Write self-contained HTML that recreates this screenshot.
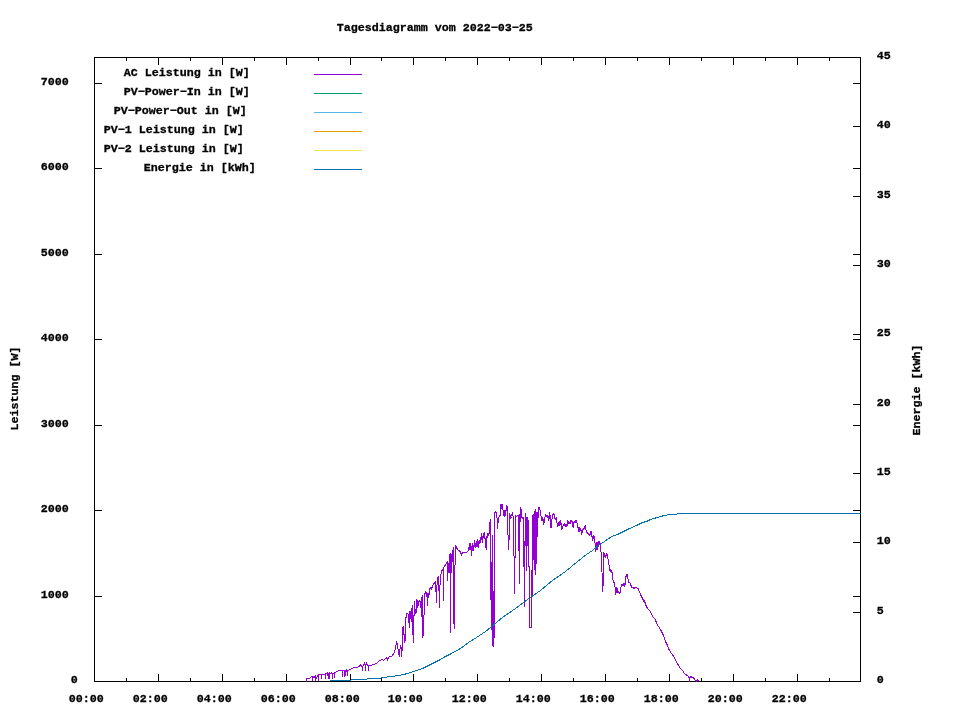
<!DOCTYPE html>
<html><head><meta charset="utf-8"><title>Tagesdiagramm vom 2022-03-25</title>
<style>
html,body{margin:0;padding:0;background:#fff;}
body{width:960px;height:720px;overflow:hidden;font-family:"Liberation Mono",monospace;}
svg{display:block;will-change:transform;}
text{font-family:"Liberation Mono",monospace;font-weight:bold;font-size:11.67px;fill:#000;stroke:#000;stroke-width:0.3px;}
.ax{stroke:#000;stroke-width:1;fill:none;shape-rendering:crispEdges;}
.ln{fill:none;stroke-width:1;shape-rendering:crispEdges;}
</style></head><body>
<svg width="960" height="720" viewBox="0 0 960 720">
<rect x="0" y="0" width="960" height="720" fill="#fff"/>
<g class="ax">
<rect x="94.5" y="57.5" width="766" height="624"/>
<path d="M126.5 682v-4 M126.5 57v4 M158.5 682v-8 M158.5 57v8 M190.5 682v-4 M190.5 57v4 M222.5 682v-8 M222.5 57v8 M254.5 682v-4 M254.5 57v4 M286.5 682v-8 M286.5 57v8 M318.5 682v-4 M318.5 57v4 M350.5 682v-8 M350.5 57v8 M381.5 682v-4 M381.5 57v4 M413.5 682v-8 M413.5 57v8 M445.5 682v-4 M445.5 57v4 M477.5 682v-8 M477.5 57v8 M509.5 682v-4 M509.5 57v4 M541.5 682v-8 M541.5 57v8 M573.5 682v-4 M573.5 57v4 M605.5 682v-8 M605.5 57v8 M637.5 682v-4 M637.5 57v4 M669.5 682v-8 M669.5 57v8 M701.5 682v-4 M701.5 57v4 M733.5 682v-8 M733.5 57v8 M765.5 682v-4 M765.5 57v4 M797.5 682v-8 M797.5 57v8 M829.5 682v-4 M829.5 57v4 M94 596.5h8 M861 596.5h-8 M94 510.5h8 M861 510.5h-8 M94 425.5h8 M861 425.5h-8 M94 339.5h8 M861 339.5h-8 M94 254.5h8 M861 254.5h-8 M94 168.5h8 M861 168.5h-8 M94 83.5h8 M861 83.5h-8 M861 612.5h-8 M861 542.5h-8 M861 473.5h-8 M861 404.5h-8 M861 334.5h-8 M861 265.5h-8 M861 196.5h-8 M861 126.5h-8"/>
</g>
<text x="336.7" y="30.6" textLength="196" lengthAdjust="spacing">Tagesdiagramm vom 2022−03−25</text>
<text x="70.7" y="682.6" textLength="7" lengthAdjust="spacing">0</text>
<text x="40.7" y="597.6" textLength="28" lengthAdjust="spacing">1000</text>
<text x="40.7" y="511.6" textLength="28" lengthAdjust="spacing">2000</text>
<text x="40.7" y="426.6" textLength="28" lengthAdjust="spacing">3000</text>
<text x="40.7" y="340.6" textLength="28" lengthAdjust="spacing">4000</text>
<text x="40.7" y="255.6" textLength="28" lengthAdjust="spacing">5000</text>
<text x="40.7" y="169.6" textLength="28" lengthAdjust="spacing">6000</text>
<text x="40.7" y="84.6" textLength="28" lengthAdjust="spacing">7000</text>
<text x="876.7" y="682.6" textLength="7" lengthAdjust="spacing">0</text>
<text x="876.7" y="613.6" textLength="7" lengthAdjust="spacing">5</text>
<text x="876.7" y="543.6" textLength="14" lengthAdjust="spacing">10</text>
<text x="876.7" y="474.6" textLength="14" lengthAdjust="spacing">15</text>
<text x="876.7" y="405.6" textLength="14" lengthAdjust="spacing">20</text>
<text x="876.7" y="335.6" textLength="14" lengthAdjust="spacing">25</text>
<text x="876.7" y="266.6" textLength="14" lengthAdjust="spacing">30</text>
<text x="876.7" y="197.6" textLength="14" lengthAdjust="spacing">35</text>
<text x="876.7" y="127.6" textLength="14" lengthAdjust="spacing">40</text>
<text x="876.7" y="58.6" textLength="14" lengthAdjust="spacing">45</text>
<text x="68.7" y="701.6" textLength="35" lengthAdjust="spacing">00:00</text>
<text x="132.7" y="701.6" textLength="35" lengthAdjust="spacing">02:00</text>
<text x="196.7" y="701.6" textLength="35" lengthAdjust="spacing">04:00</text>
<text x="260.7" y="701.6" textLength="35" lengthAdjust="spacing">06:00</text>
<text x="324.7" y="701.6" textLength="35" lengthAdjust="spacing">08:00</text>
<text x="387.7" y="701.6" textLength="35" lengthAdjust="spacing">10:00</text>
<text x="451.7" y="701.6" textLength="35" lengthAdjust="spacing">12:00</text>
<text x="515.7" y="701.6" textLength="35" lengthAdjust="spacing">14:00</text>
<text x="579.7" y="701.6" textLength="35" lengthAdjust="spacing">16:00</text>
<text x="643.7" y="701.6" textLength="35" lengthAdjust="spacing">18:00</text>
<text x="707.7" y="701.6" textLength="35" lengthAdjust="spacing">20:00</text>
<text x="771.7" y="701.6" textLength="35" lengthAdjust="spacing">22:00</text>
<text transform="translate(18.2,430.5) rotate(-90)" textLength="84" lengthAdjust="spacing">Leistung [W]</text>
<text transform="translate(920.2,435.5) rotate(-90)" textLength="91" lengthAdjust="spacing">Energie [kWh]</text>
<text x="123.7" y="75.6" textLength="126" lengthAdjust="spacing">AC Leistung in [W]</text>
<path class="ln" stroke="#9400D3" d="M314 74.5H362"/>
<text x="123.7" y="94.6" textLength="126" lengthAdjust="spacing">PV−Power−In in [W]</text>
<path class="ln" stroke="#009E73" d="M314 93.5H362"/>
<text x="113.7" y="113.6" textLength="133" lengthAdjust="spacing">PV−Power−Out in [W]</text>
<path class="ln" stroke="#56B4E9" d="M314 112.5H362"/>
<text x="103.7" y="132.6" textLength="140" lengthAdjust="spacing">PV−1 Leistung in [W]</text>
<path class="ln" stroke="#E69F00" d="M314 131.5H362"/>
<text x="103.7" y="151.6" textLength="140" lengthAdjust="spacing">PV−2 Leistung in [W]</text>
<path class="ln" stroke="#F0E442" d="M314 150.5H362"/>
<text x="143.7" y="170.6" textLength="112" lengthAdjust="spacing">Energie in [kWh]</text>
<path class="ln" stroke="#0072B2" d="M314 169.5H362"/>
<polyline class="ln" stroke="#9400D3" points="306.5,681.5 306.5,678.5 309.5,678.5 310.5,677.5 311.5,676.5 312.5,676.5 312.5,680.5 312.5,676.5 314.5,677.5 315.5,675.5 315.5,680.5 315.5,677.5 316.5,678.5 317.5,675.5 318.5,675.5 318.5,680.5 318.5,674.5 321.5,674.5 321.5,678.5 321.5,674.5 325.5,674.5 325.5,678.5 325.5,673.5 327.5,673.5 327.5,672.5 328.5,678.5 328.5,672.5 328.5,678.5 329.5,672.5 329.5,678.5 329.5,673.5 330.5,673.5 331.5,672.5 332.5,675.5 332.5,678.5 332.5,673.5 333.5,673.5 334.5,672.5 334.5,677.5 334.5,672.5 335.5,672.5 336.5,671.5 337.5,671.5 338.5,670.5 342.5,670.5 342.5,676.5 342.5,670.5 343.5,670.5 344.5,670.5 344.5,676.5 344.5,670.5 345.5,675.5 345.5,669.5 345.5,675.5 346.5,669.5 347.5,670.5 347.5,675.5 347.5,670.5 348.5,670.5 349.5,669.5 350.5,669.5 351.5,668.5 352.5,668.5 353.5,667.5 357.5,667.5 358.5,666.5 359.5,666.5 360.5,664.5 361.5,665.5 362.5,667.5 362.5,670.5 362.5,666.5 363.5,665.5 364.5,663.5 365.5,665.5 365.5,670.5 365.5,665.5 366.5,663.5 367.5,665.5 368.5,665.5 368.5,670.5 368.5,665.5 369.5,665.5 371.5,665.5 372.5,664.5 374.5,664.5 375.5,663.5 376.5,663.5 377.5,662.5 378.5,661.5 379.5,660.5 380.5,660.5 381.5,659.5 382.5,659.5 383.5,660.5 384.5,659.5 385.5,658.5 386.5,657.5 387.5,659.5 388.5,657.5 389.5,656.5 390.5,656.5 391.5,656.5 392.5,655.5 393.5,653.5 394.5,652.5 395.5,648.5 396.5,642.5 397.5,644.5 398.5,652.5 399.5,656.5 399.5,652.5 400.5,646.5 401.5,648.5 401.5,656.5 402.5,645.5 402.5,627.5 403.5,626.5 403.5,634.5 404.5,634.5 404.5,642.5 405.5,638.5 405.5,617.5 406.5,617.5 406.5,613.5 407.5,613.5 408.5,614.5 408.5,622.5 409.5,622.5 409.5,627.5 409.5,611.5 410.5,611.5 410.5,618.5 411.5,618.5 411.5,621.5 411.5,608.5 412.5,608.5 412.5,604.5 412.5,634.5 413.5,634.5 413.5,642.5 413.5,615.5 414.5,615.5 414.5,600.5 414.5,609.5 415.5,609.5 415.5,613.5 416.5,611.5 416.5,599.5 417.5,601.5 417.5,607.5 418.5,604.5 418.5,601.5 419.5,601.5 419.5,600.5 420.5,602.5 420.5,607.5 421.5,607.5 421.5,616.5 421.5,597.5 422.5,597.5 422.5,594.5 422.5,637.5 423.5,634.5 423.5,615.5 424.5,614.5 424.5,593.5 425.5,593.5 425.5,591.5 426.5,592.5 426.5,596.5 427.5,596.5 427.5,605.5 427.5,593.5 428.5,593.5 428.5,597.5 429.5,592.5 429.5,588.5 430.5,588.5 430.5,587.5 431.5,587.5 431.5,589.5 432.5,586.5 432.5,585.5 433.5,584.5 434.5,582.5 435.5,581.5 435.5,591.5 436.5,591.5 436.5,602.5 436.5,585.5 437.5,584.5 437.5,577.5 438.5,576.5 438.5,590.5 439.5,590.5 439.5,607.5 439.5,585.5 440.5,584.5 440.5,577.5 441.5,571.5 442.5,569.5 443.5,568.5 443.5,600.5 443.5,567.5 444.5,566.5 445.5,564.5 446.5,563.5 447.5,561.5 447.5,580.5 447.5,562.5 448.5,566.5 448.5,572.5 449.5,554.5 449.5,572.5 450.5,553.5 450.5,632.5 450.5,553.5 451.5,572.5 451.5,553.5 451.5,570.5 452.5,553.5 452.5,549.5 452.5,554.5 453.5,547.5 453.5,618.5 454.5,628.5 454.5,585.5 455.5,545.5 456.5,547.5 457.5,549.5 458.5,550.5 459.5,550.5 460.5,552.5 461.5,554.5 462.5,552.5 463.5,552.5 464.5,552.5 465.5,552.5 466.5,552.5 467.5,551.5 468.5,550.5 469.5,543.5 469.5,549.5 470.5,543.5 470.5,549.5 471.5,546.5 471.5,555.5 472.5,546.5 472.5,542.5 472.5,549.5 473.5,547.5 473.5,550.5 474.5,540.5 474.5,546.5 475.5,543.5 475.5,547.5 476.5,541.5 476.5,546.5 477.5,539.5 477.5,546.5 478.5,541.5 478.5,547.5 479.5,540.5 480.5,539.5 480.5,536.5 480.5,542.5 481.5,533.5 481.5,539.5 482.5,536.5 482.5,542.5 483.5,533.5 483.5,537.5 484.5,532.5 484.5,538.5 485.5,538.5 485.5,546.5 486.5,549.5 486.5,538.5 487.5,533.5 487.5,537.5 488.5,533.5 489.5,533.5 489.5,525.5 490.5,519.5 490.5,570.5 491.5,629.5 491.5,562.5 492.5,645.5 492.5,535.5 493.5,646.5 493.5,591.5 494.5,637.5 494.5,513.5 495.5,511.5 496.5,512.5 497.5,522.5 497.5,528.5 498.5,517.5 499.5,516.5 500.5,514.5 500.5,504.5 501.5,504.5 501.5,508.5 502.5,504.5 502.5,509.5 503.5,510.5 503.5,515.5 504.5,510.5 504.5,516.5 505.5,510.5 505.5,515.5 506.5,505.5 506.5,510.5 507.5,506.5 507.5,519.5 508.5,549.5 509.5,530.5 509.5,513.5 510.5,516.5 510.5,518.5 511.5,516.5 512.5,512.5 512.5,515.5 513.5,516.5 514.5,593.5 515.5,525.5 515.5,515.5 516.5,516.5 517.5,515.5 518.5,515.5 519.5,583.5 519.5,521.5 520.5,507.5 520.5,521.5 521.5,509.5 521.5,516.5 522.5,518.5 523.5,517.5 523.5,566.5 524.5,566.5 524.5,606.5 524.5,541.5 525.5,541.5 525.5,512.5 525.5,545.5 526.5,545.5 526.5,570.5 526.5,517.5 527.5,517.5 527.5,545.5 528.5,545.5 528.5,519.5 528.5,566.5 529.5,566.5 529.5,627.5 531.5,627.5 532.5,515.5 532.5,595.5 533.5,514.5 533.5,559.5 534.5,511.5 534.5,569.5 535.5,509.5 535.5,574.5 536.5,512.5 536.5,563.5 537.5,512.5 537.5,518.5 538.5,516.5 538.5,507.5 539.5,507.5 539.5,509.5 540.5,510.5 540.5,515.5 541.5,516.5 541.5,520.5 542.5,520.5 542.5,517.5 543.5,521.5 543.5,524.5 544.5,521.5 544.5,517.5 545.5,516.5 545.5,514.5 546.5,515.5 546.5,516.5 547.5,517.5 547.5,515.5 548.5,516.5 548.5,520.5 549.5,517.5 549.5,512.5 550.5,518.5 550.5,527.5 551.5,527.5 551.5,519.5 552.5,518.5 552.5,514.5 553.5,514.5 553.5,513.5 554.5,514.5 554.5,518.5 555.5,518.5 555.5,519.5 556.5,517.5 556.5,522.5 557.5,523.5 557.5,526.5 558.5,524.5 558.5,523.5 559.5,521.5 559.5,525.5 560.5,524.5 560.5,520.5 561.5,525.5 561.5,529.5 562.5,528.5 562.5,526.5 563.5,525.5 563.5,524.5 564.5,523.5 564.5,525.5 565.5,526.5 565.5,524.5 566.5,524.5 566.5,526.5 567.5,524.5 567.5,520.5 568.5,521.5 568.5,523.5 569.5,523.5 569.5,522.5 570.5,523.5 570.5,520.5 571.5,520.5 571.5,521.5 572.5,521.5 572.5,526.5 573.5,527.5 573.5,522.5 574.5,522.5 574.5,521.5 575.5,522.5 575.5,520.5 576.5,520.5 576.5,522.5 577.5,523.5 577.5,527.5 578.5,527.5 578.5,531.5 579.5,531.5 579.5,527.5 580.5,528.5 580.5,530.5 581.5,530.5 581.5,534.5 582.5,531.5 582.5,529.5 583.5,529.5 583.5,528.5 584.5,528.5 584.5,526.5 585.5,525.5 585.5,529.5 586.5,530.5 586.5,532.5 587.5,532.5 587.5,533.5 588.5,533.5 588.5,534.5 589.5,534.5 589.5,535.5 590.5,534.5 590.5,531.5 591.5,531.5 591.5,536.5 592.5,536.5 592.5,540.5 593.5,537.5 593.5,535.5 594.5,537.5 594.5,542.5 595.5,543.5 595.5,551.5 596.5,547.5 596.5,542.5 597.5,542.5 597.5,549.5 598.5,544.5 598.5,541.5 599.5,541.5 599.5,544.5 600.5,543.5 600.5,551.5 601.5,552.5 602.5,591.5 603.5,580.5 603.5,552.5 604.5,554.5 604.5,556.5 605.5,557.5 605.5,555.5 606.5,555.5 606.5,553.5 607.5,554.5 607.5,558.5 608.5,559.5 608.5,564.5 609.5,565.5 609.5,570.5 610.5,569.5 610.5,571.5 611.5,572.5 611.5,570.5 612.5,573.5 612.5,579.5 613.5,580.5 613.5,582.5 614.5,582.5 614.5,586.5 615.5,587.5 615.5,594.5 616.5,591.5 616.5,587.5 617.5,588.5 617.5,592.5 618.5,592.5 618.5,591.5 619.5,592.5 619.5,593.5 620.5,591.5 620.5,587.5 621.5,586.5 621.5,584.5 622.5,584.5 622.5,585.5 623.5,585.5 623.5,583.5 624.5,583.5 624.5,586.5 625.5,583.5 625.5,576.5 626.5,576.5 626.5,574.5 627.5,574.5 627.5,578.5 628.5,579.5 628.5,582.5 629.5,582.5 630.5,583.5 630.5,585.5 631.5,585.5 631.5,587.5 632.5,587.5 633.5,587.5 633.5,588.5 634.5,588.5 634.5,587.5 635.5,587.5 636.5,587.5 637.5,588.5 638.5,588.5 638.5,590.5 639.5,591.5 639.5,592.5 640.5,593.5 640.5,595.5 641.5,595.5 641.5,597.5 642.5,597.5 642.5,599.5 643.5,599.5 643.5,601.5 644.5,602.5 644.5,600.5 645.5,604.5 647.5,608.5 650.5,611.5 652.5,616.5 653.5,617.5 655.5,619.5 656.5,623.5 660.5,629.5 663.5,635.5 665.5,641.5 667.5,645.5 668.5,648.5 669.5,650.5 671.5,653.5 674.5,657.5 675.5,660.5 677.5,663.5 678.5,665.5 680.5,668.5 682.5,670.5 684.5,673.5 685.5,674.5 687.5,675.5 688.5,676.5 689.5,678.5 689.5,681.5 689.5,678.5 690.5,676.5 692.5,677.5 693.5,677.5 694.5,679.5 695.5,680.5 696.5,681.5 697.5,679.5 698.5,680.5 699.5,681.5"/>
<polyline class="ln" stroke="#0072B2" points="329.5,680.5 350.5,680.5 351.5,679.5 366.5,679.5 367.5,678.5 378.5,678.5 383.5,677.5 391.5,676.5 398.5,675.5 403.5,674.5 407.5,673.5 410.5,672.5 413.5,671.5 416.5,670.5 419.5,669.5 422.5,668.5 424.5,667.5 426.5,666.5 428.5,665.5 430.5,664.5 432.5,663.5 434.5,662.5 436.5,661.5 438.5,660.5 440.5,659.5 443.5,657.5 451.5,653.5 460.5,648.5 468.5,642.5 476.5,637.5 485.5,631.5 490.5,627.5 502.5,617.5 515.5,608.5 527.5,599.5 540.5,590.5 552.5,580.5 565.5,571.5 577.5,561.5 586.5,554.5 592.5,550.5 598.5,545.5 604.5,541.5 611.5,536.5 617.5,534.5 623.5,531.5 629.5,528.5 636.5,525.5 642.5,522.5 646.5,521.5 650.5,519.5 660.5,516.5 664.5,515.5 669.5,514.5 676.5,514.5 677.5,513.5 860.5,513.5"/>
</svg>
</body></html>
